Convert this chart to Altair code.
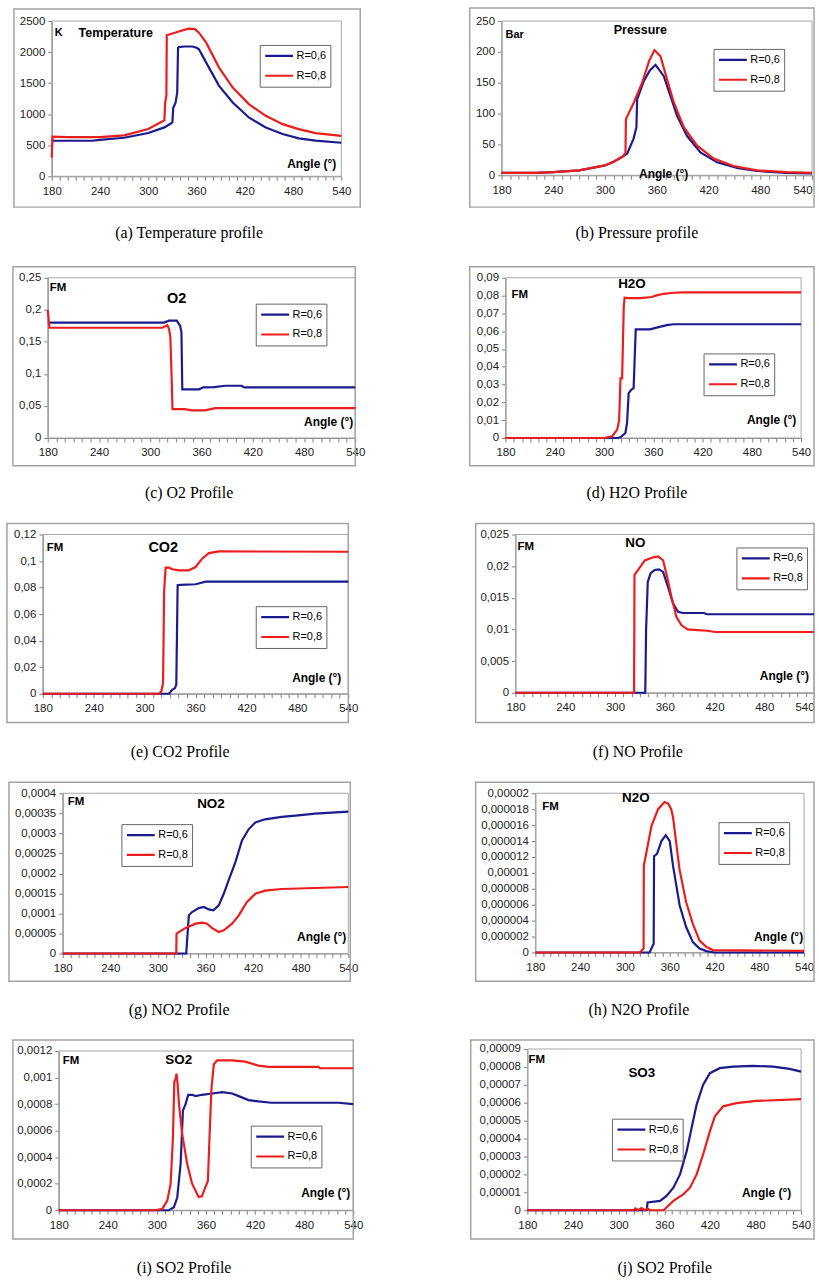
import altair as alt
import pandas as pd

SERIES = ["R=0,6", "R=0,8"]
COLORS = ["#1b1b8f", "#ee1d1d"]
SANS = "Liberation Sans"
SERIF = "Liberation Serif"

# ---------------- data (angle in degrees, value) ----------------
# (a) Temperature (K)
T06_A = [180, 182, 230, 240, 270, 300, 320, 328, 330, 331, 334, 336, 337, 338, 345, 355, 360, 363, 372, 388, 405, 425, 446, 467, 487, 508, 540]
T06_V = [590, 572, 572, 585, 620, 696, 787, 850, 870, 1100, 1190, 1350, 2070, 2080, 2090, 2090, 2070, 2045, 1830, 1456, 1188, 947, 787, 680, 610, 573, 540]
T08_A = [180, 181, 200, 240, 270, 300, 315, 320, 321, 322.5, 323, 330, 340, 350, 358, 363, 372, 388, 405, 425, 446, 467, 487, 508, 540]
T08_V = [300, 640, 630, 630, 660, 760, 867, 900, 1190, 1300, 2270, 2300, 2340, 2377, 2370, 2312, 2152, 1750, 1429, 1162, 974, 840, 760, 696, 650]

# (b) Pressure (bar)
P06_A = [180, 220, 240, 270, 300, 310, 320, 325.6, 333, 336.4, 337.2, 345, 352, 358.5, 368, 376, 383.6, 395, 410.6, 430, 453, 476, 510, 540]
P06_V = [4, 4, 5, 8, 16, 22, 30, 35, 59, 78, 123, 153, 170, 179, 161, 128, 96, 64, 37, 21, 12, 7, 4, 3]
P08_A = [180, 220, 240, 270, 300, 310, 320, 323.7, 324.2, 333.4, 343, 351, 357.3, 364.3, 372, 379.7, 391.3, 406.8, 426, 449, 476, 510, 540]
P08_V = [4, 4, 5, 8, 16, 22, 30, 36, 91, 118, 150, 185, 203, 193, 155, 118, 78, 48, 27, 15, 8, 5, 4]

# (c) O2
O06_A = [180, 316, 322, 331, 335, 336.5, 337.5, 340, 357, 362, 375, 388, 407, 410, 540]
O06_V = [0.18, 0.18, 0.183, 0.183, 0.175, 0.165, 0.076, 0.076, 0.076, 0.079, 0.0795, 0.0815, 0.0815, 0.079, 0.079]
O08_A = [180, 182, 314, 320, 322, 323.5, 325, 326, 340, 349, 364, 376, 540]
O08_V = [0.2, 0.172, 0.172, 0.176, 0.17, 0.158, 0.096, 0.045, 0.045, 0.043, 0.043, 0.0466, 0.0466]

# (d) H2O
H06_A = [180, 316, 320, 326, 328, 330, 333, 336, 337.4, 338.6, 356, 364, 376.5, 384.6, 540]
H06_V = [0, 0, 0.0004, 0.0028, 0.0084, 0.0252, 0.027, 0.028, 0.0457, 0.061, 0.061, 0.062, 0.0634, 0.0639, 0.0639]
H08_A = [180, 300, 310, 316, 318.4, 320, 322, 324, 325, 330, 344, 358, 364, 372.5, 384.6, 396.7, 540]
H08_V = [0, 0, 0.001, 0.0047, 0.010, 0.0335, 0.0335, 0.0736, 0.0788, 0.0786, 0.0786, 0.0792, 0.0801, 0.081, 0.0816, 0.0818, 0.0818]

# (e) CO2
C06_A = [180, 328.7, 332.6, 335.7, 337.3, 338.9, 342, 360, 365.9, 371.7, 540]
C06_V = [0, 0, 0.003, 0.0043, 0.0068, 0.0818, 0.082, 0.0825, 0.0835, 0.0845, 0.0845]
C08_A = [180, 317, 319.7, 321.7, 323, 324.8, 328.7, 332.6, 340.4, 352, 360, 367.8, 375.7, 387.4, 540]
C08_V = [0, 0, 0.0018, 0.008, 0.078, 0.095, 0.095, 0.0938, 0.093, 0.093, 0.0955, 0.1018, 0.106, 0.1073, 0.107]

# (f) NO
N06_A = [180, 336.5, 337.5, 339.5, 343, 348, 353, 358, 364, 370, 376, 382, 407, 411, 540]
N06_V = [0, 0, 0.01, 0.0175, 0.0189, 0.0194, 0.0195, 0.0191, 0.0167, 0.0141, 0.0128, 0.0126, 0.0126, 0.0124, 0.0124]
N08_A = [180, 323, 323.5, 324.5, 336, 346, 352, 358, 362, 368, 374, 380, 387.6, 399.5, 411, 421, 540]
N08_V = [0, 0, 0.0186, 0.0188, 0.0209, 0.0214, 0.02155, 0.0209, 0.0188, 0.0152, 0.012, 0.0107, 0.01, 0.0099, 0.0098, 0.0096, 0.0096]

# (g) NO2
G06_A = [180, 335.7, 339, 343, 351.6, 358, 364, 370, 376.7, 383, 389, 397.7, 406, 414.4, 422.8, 435, 456, 477, 498, 540]
G06_V = [0, 0, 0.0000952, 0.0001035, 0.0001134, 0.000116, 0.00011, 0.0001076, 0.00012, 0.000149, 0.000182, 0.000228, 0.000282, 0.00031, 0.000327, 0.000335, 0.000341, 0.000345, 0.000349, 0.000354]
G08_A = [180, 323.2, 323.5, 335, 347.4, 355.8, 362, 368, 376.7, 383, 393.5, 402, 412, 422.8, 435, 456, 540]
G08_V = [0, 0, 0.0000497, 0.0000638, 0.0000745, 0.000077, 0.0000745, 0.0000638, 0.0000538, 0.000058, 0.0000745, 0.0000952, 0.000128, 0.000149, 0.000157, 0.000161, 0.000166]

# (h) N2O
M06_A = [180, 333, 338.5, 339, 343, 348.9, 354.7, 360, 364.4, 373.3, 382, 391, 400, 409, 420, 540]
M06_V = [0, 0, 1.1e-6, 1.21e-5, 1.24e-5, 1.4e-5, 1.475e-5, 1.4e-5, 1.09e-5, 5.9e-6, 3.2e-6, 1.3e-6, 5e-7, 1.7e-7, 0, 0]
M08_A = [180, 320, 325, 325.3, 335.6, 344.4, 353, 358, 362, 364.4, 373, 382, 391, 400, 409, 418, 540]
M08_V = [0, 0, 5e-7, 1.09e-5, 1.59e-5, 1.8e-5, 1.89e-5, 1.87e-5, 1.8e-5, 1.7e-5, 1.05e-5, 6.3e-6, 3.6e-6, 1.5e-6, 7e-7, 3e-7, 2e-7]

# (i) SO2
S06_A = [180, 314.7, 320.8, 324.9, 329, 331.8, 335, 338.3, 343.2, 347.2, 355, 367.5, 380, 392, 400, 412, 424, 440, 522, 540]
S06_V = [0, 0, 2.2e-5, 9.8e-5, 0.00035, 0.00075, 0.0008, 0.00087, 0.00087, 0.00086, 0.00087, 0.00088, 0.00089, 0.00088, 0.00086, 0.00083, 0.00082, 0.00081, 0.00081, 0.0008]
S08_A = [180, 298.5, 306.6, 312.7, 316.8, 319.6, 321.3, 322.9, 324, 325.3, 327, 331, 337, 343, 351, 355, 359, 362.3, 364.3, 366.7, 369.6, 373.6, 392, 408, 424, 436.5, 497.4, 499.5, 540]
S08_V = [0, 0, 1e-5, 7.2e-5, 0.0002, 0.00055, 0.00097, 0.00099, 0.00103, 0.00095, 0.0008, 0.00057, 0.00035, 0.0002, 0.0001, 0.000105, 0.00017, 0.00022, 0.00055, 0.00092, 0.0011, 0.00113, 0.00113, 0.00112, 0.00109, 0.00108, 0.00108, 0.00107, 0.00107]

# (j) SO3
J06_A = [180, 337, 338, 354.5, 363, 372, 380.7, 389.5, 396, 402.6, 411, 420, 433, 450.5, 476.8, 503, 524.8, 540]
J06_V = [0, 0, 4.3e-6, 5.2e-6, 8e-6, 1.26e-5, 2e-5, 3.3e-5, 4.6e-5, 5.9e-5, 7e-5, 7.65e-5, 7.93e-5, 8.02e-5, 8.06e-5, 8.02e-5, 7.89e-5, 7.74e-5]
J08_A = [180, 319.6, 322, 326, 330, 334, 338, 341.5, 358.7, 363, 372, 385, 393.8, 402.6, 411, 420, 426.6, 437.5, 455, 481, 540]
J08_V = [0, 0, 1e-6, 0, 1.2e-6, 0, 1e-6, 0, 0, 1.5e-6, 5.2e-6, 8.9e-6, 1.26e-5, 2e-5, 3.1e-5, 4.4e-5, 5.24e-5, 5.8e-5, 5.98e-5, 6.1e-5, 6.2e-5]

X_TICKS = list(range(180, 541, 10))

# ---------------- panel layout (absolute pixel layout of the page) ----------------
PANELS = [
    dict(a06=T06_A, v06=T06_V, a08=T08_A, v08=T08_V, ymax=2500, ystep=500, n=5, fmt="d",
         plot=(52, 18, 291, 156), cell=(0, 0, 409, 259), frame=(14, 6, 362, 205), legend=(209, 24),
         texts=[("K", 183.7, 2300, 11, "left"), ("Temperature", 213.4, 2300, 12.5, "left"), ("Angle (°)", 533.8, 192, 12, "right")],
         caption=("(a) Temperature profile", 190, 231)),
    dict(a06=P06_A, v06=P06_V, a08=P08_A, v08=P08_V, ymax=250, ystep=50, n=5, fmt="d", flush=True,
         plot=(504, 18, 312, 155), cell=(409, 0, 410, 259), frame=(472, 5, 818, 205), legend=(213, 28),
         texts=[("Bar", 184.6, 227, 11, "left"), ("Pressure", 341, 235.5, 12.5, "center"), ("Angle (°)", 368, 1.6, 12, "center")],
         caption=("(b) Pressure profile", 640, 231)),
    dict(a06=O06_A, v06=O06_V, a08=O08_A, v08=O08_V, ymax=0.25, ystep=0.05, n=5, fmt=".2~f",
         plot=(48, 276, 309, 161), cell=(0, 259, 409, 259), frame=(13, 265, 357, 465), legend=(209, 26),
         texts=[("FM", 182.3, 0.2345, 11.5, "left"), ("O2", 330.9, 0.2174, 14.5, "center"), ("Angle (°)", 537.7, 0.0248, 12, "right")],
         caption=("(c) O2 Profile", 190, 492)),
    dict(a06=H06_A, v06=H06_V, a08=H08_A, v08=H08_V, ymax=0.09, ystep=0.01, n=9, fmt=".2~f",
         plot=(508, 276, 297, 161), cell=(409, 259, 410, 259), frame=(472, 265, 818, 465), legend=(199, 76),
         texts=[("FM", 187.3, 0.0805, 11.5, "left"), ("H2O", 334, 0.0866, 13.5, "center"), ("Angle (°)", 534, 0.01006, 12, "right")],
         caption=("(d) H2O Profile", 640, 492)),
    dict(a06=C06_A, v06=C06_V, a08=C08_A, v08=C08_V, ymax=0.12, ystep=0.02, n=6, fmt=".2~f",
         plot=(43, 534, 307, 160), cell=(0, 518, 409, 259), frame=(7, 523, 350, 723), legend=(214, 72),
         texts=[("FM", 184.7, 0.110, 11.5, "left"), ("CO2", 321.9, 0.110, 14.5, "center"), ("Angle (°)", 531.8, 0.012, 12, "right")],
         caption=("(e) CO2 Profile", 181, 753)),
    dict(a06=N06_A, v06=N06_V, a08=N08_A, v08=N08_V, ymax=0.025, ystep=0.005, n=5, fmt=".3~f", flush=True,
         plot=(518, 534, 300, 159), cell=(409, 518, 410, 259), frame=(478, 523, 818, 723), legend=(222, 13),
         texts=[("FM", 182.4, 0.0231, 11.5, "left"), ("NO", 324.5, 0.0236, 13.5, "center"), ("Angle (°)", 534, 0.00267, 12, "right")],
         caption=("(f) NO Profile", 641, 753)),
    dict(a06=G06_A, v06=G06_V, a08=G08_A, v08=G08_V, ymax=0.0004, ystep=0.00005, n=8, fmt=".5~f",
         plot=(63, 794, 287, 161), cell=(0, 777, 409, 259), frame=(9, 783, 352, 983), legend=(59, 31),
         texts=[("FM", 186.3, 0.000378, 11.5, "left"), ("NO2", 366.9, 0.000373, 13.5, "center"), ("Angle (°)", 537.5, 0.0000422, 12, "right")],
         caption=("(g) NO2 Profile", 180, 1012)),
    dict(a06=M06_A, v06=M06_V, a08=M08_A, v08=M08_V, ymax=0.00002, ystep=0.000002, n=10, fmt=".6~f",
         plot=(538, 794, 270, 160), cell=(409, 777, 410, 259), frame=(478, 783, 818, 983), legend=(184, 29),
         texts=[("FM", 189.3, 1.825e-5, 11.5, "left"), ("N2O", 314.7, 1.94e-5, 13.5, "center"), ("Angle (°)", 538.7, 2e-6, 12, "right")],
         caption=("(h) N2O Profile", 642, 1012)),
    dict(a06=S06_A, v06=S06_V, a08=S08_A, v08=S08_V, ymax=0.0012, ystep=0.0002, n=6, fmt=".4~f",
         plot=(59, 1053, 296, 160), cell=(0, 1036, 409, 249), frame=(13, 1042, 355, 1242), legend=(193, 75),
         texts=[("FM", 184.9, 0.001125, 11.5, "left"), ("SO2", 326.6, 0.00113, 13.5, "center"), ("Angle (°)", 536.4, 0.0001275, 12, "right")],
         caption=("(i) SO2 Profile", 185, 1271)),
    dict(a06=J06_A, v06=J06_V, a08=J08_A, v08=J08_V, ymax=0.00009, ystep=0.00001, n=9, fmt=".5~f",
         plot=(530, 1051, 275, 162), cell=(409, 1036, 410, 249), frame=(473, 1042, 818, 1242), legend=(85, 70),
         texts=[("FM", 181.3, 8.39e-5, 11.5, "left"), ("SO3", 330.5, 7.67e-5, 13.5, "center"), ("Angle (°)", 527, 9.4e-6, 12, "right")],
         caption=("(j) SO2 Profile", 668, 1271)),
]


def make_panel(p):
    L, T, W, H = p["plot"]
    cx, cy, cw, ch = p["cell"]
    fx1, fy1, fx2, fy2 = p["frame"]
    x0, y0 = L - cx, T - cy  # plot-area origin inside this panel's cell
    df = pd.DataFrame({
        "angle": p["a06"] + p["a08"],
        "value": p["v06"] + p["v08"],
        "series": [SERIES[0]] * len(p["a06"]) + [SERIES[1]] * len(p["a08"]),
    })
    yvals = [round(i * p["ystep"], 10) for i in range(p["n"] + 1)]
    xscale = alt.Scale(domain=[180, 540], range=[x0, x0 + W], nice=False, zero=False)
    yscale = alt.Scale(domain=[0, p["ymax"]], range=[y0 + H, y0], nice=False, zero=False)
    if p.get("flush"):
        label_align = {"condition": {"test": "datum.value == 540", "value": "right"}, "value": "center"}
    else:
        label_align = "center"
    xaxis = alt.Axis(values=X_TICKS, labelExpr="datum.value % 60 == 0 ? datum.label : ''",
                     title=None, grid=False, tickSize=4, labelPadding=5,
                     labelFlush=False, labelOverlap=False, labelAlign=label_align,
                     offset=(y0 + H) - ch)
    yaxis = alt.Axis(values=yvals,
                     labelExpr="replace(format(datum.value, '%s'), '.', ',')" % p["fmt"],
                     title=None, grid=False, tickSize=4, labelPadding=3,
                     labelFlush=False, labelOverlap=False, offset=-x0)
    one = pd.DataFrame({"k": [0]})

    frame = alt.Chart(one).mark_rect(filled=False, stroke="#a3a3a3", strokeWidth=1.5).encode(
        x=alt.value(fx1 - cx), x2=alt.value(fx2 - cx),
        y=alt.value(fy1 - cy), y2=alt.value(fy2 - cy))

    border = alt.Chart(one).mark_rect(filled=False, stroke="#a6a6a6", strokeWidth=1).encode(
        x=alt.X(datum=180, type="quantitative", scale=xscale, axis=xaxis),
        x2=alt.X2(datum=540),
        y=alt.Y(datum=0, type="quantitative", scale=yscale, axis=yaxis),
        y2=alt.Y2(datum=p["ymax"]))

    lx, ly = p["legend"]
    lines = alt.Chart(df).mark_line(strokeWidth=2.2).encode(
        x=alt.X("angle:Q", scale=xscale, axis=xaxis),
        y=alt.Y("value:Q", scale=yscale, axis=yaxis),
        color=alt.Color("series:N", scale=alt.Scale(domain=SERIES, range=COLORS),
                        legend=alt.Legend(title=None, orient="none", legendX=x0 + lx, legendY=y0 + ly,
                                          symbolType="stroke", symbolSize=784, symbolStrokeWidth=2.2,
                                          labelFont=SANS, labelFontSize=11, labelColor="black",
                                          strokeColor="#666666", fillColor="white", padding=4,
                                          rowPadding=6, clipHeight=14, labelOffset=2, cornerRadius=0)),
    )

    layers = [frame, border, lines]
    for label, ang, val, size, align in p["texts"]:
        tdf = pd.DataFrame({"angle": [ang], "value": [val], "label": [label]})
        layers.append(
            alt.Chart(tdf).mark_text(font=SANS, fontWeight="bold", fontSize=size, align=align,
                                     baseline="middle", color="black").encode(
                x=alt.X("angle:Q", scale=xscale, axis=xaxis),
                y=alt.Y("value:Q", scale=yscale, axis=yaxis),
                text="label:N"))

    cap, capx, capy = p["caption"]
    layers.append(
        alt.Chart(one).mark_text(font=SERIF, fontSize=16, align="center", baseline="middle",
                                 color="black").encode(
            x=alt.value(capx - cx), y=alt.value(capy - cy), text=alt.value(cap)))

    return alt.layer(*layers).properties(width=cw, height=ch)


panels = [make_panel(p) for p in PANELS]
rows = [alt.hconcat(panels[2 * i], panels[2 * i + 1], spacing=0).resolve_scale(color="independent")
        for i in range(5)]

chart = (
    alt.vconcat(*rows, spacing=0)
    .resolve_scale(color="independent")
    .properties(padding=0, background="white")
    .configure_view(stroke="transparent", strokeWidth=0)
    .configure_axis(domainColor="#808080", tickColor="#808080", labelColor="#222222",
                    labelFont=SANS, labelFontSize=11.5, domainWidth=1, tickWidth=1)
)

chart.save("out.html", embed_options={"renderer": "svg", "actions": False})
